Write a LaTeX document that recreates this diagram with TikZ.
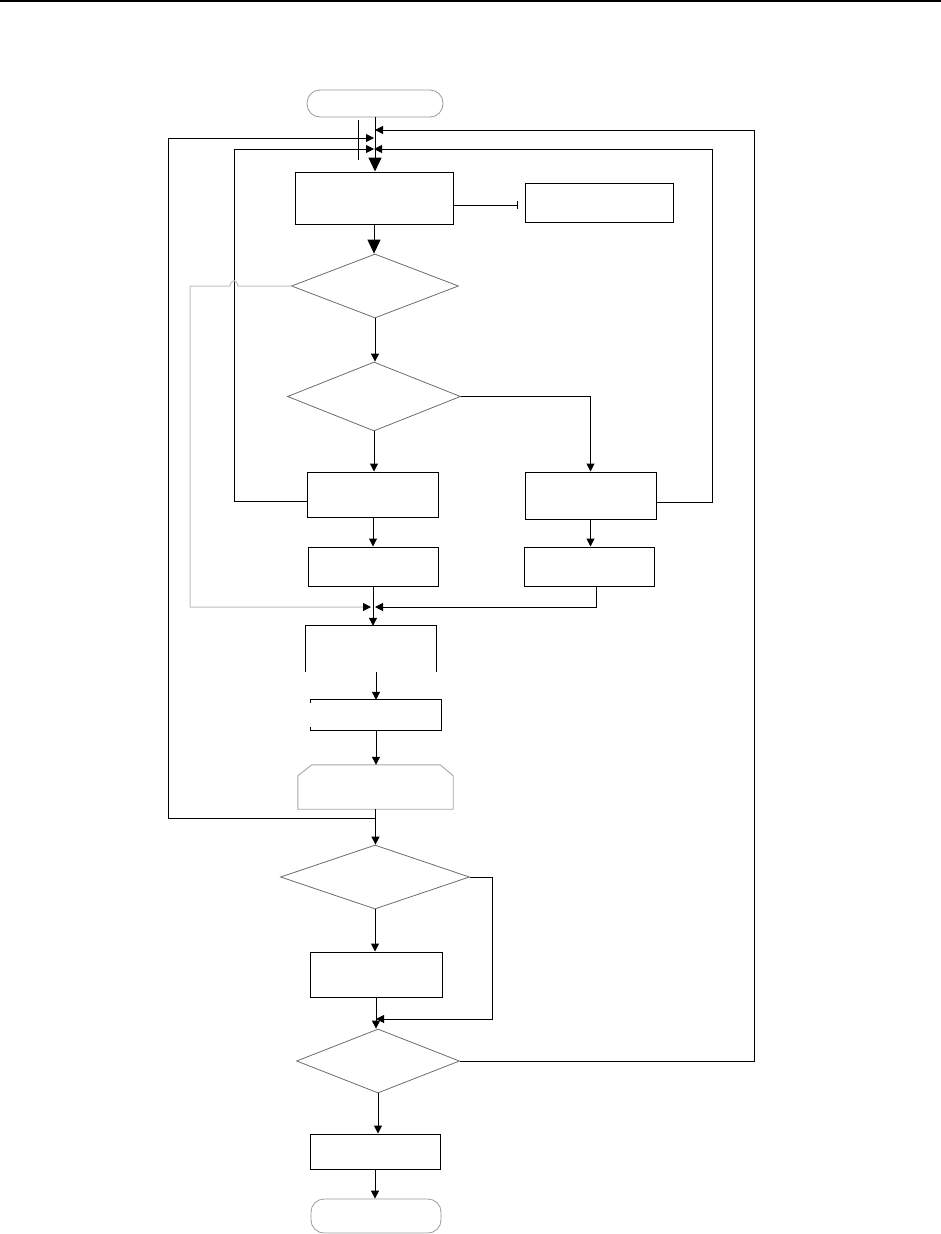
\documentclass[tikz,border=0pt]{standalone}
\usetikzlibrary{shapes.geometric,arrows.meta,calc}
\begin{document}
\begin{tikzpicture}[x=1pt,y=-1pt,
  proc/.style={draw=black,line width=1pt,rectangle,inner sep=0pt},
  hidden/.style={rectangle,inner sep=0pt},
  dec/.style={draw=gray!85!black,line width=0.8pt,shape=diamond,inner sep=0pt},
  term/.style={draw=gray!80,line width=0.8pt,rectangle,rounded corners=13pt,inner sep=0pt},
  flow/.style={line width=1pt,-{Triangle[length=8pt,width=8pt]}},
  bigflow/.style={line width=1pt,-{Triangle[length=14pt,width=13pt]}},
  gflow/.style={line width=1pt,draw=gray!50,-{Triangle[length=8pt,width=8pt,color=black,fill=black]}},
  plain/.style={line width=1pt}]
\useasboundingbox (0,0) rectangle (941,1234);
\draw[line width=1.5pt] (0,1.2) -- (941,1.2);
% nodes
\node[term,minimum width=136pt,minimum height=27pt] (start) at (375,103.5) {};
\node[proc,minimum width=158pt,minimum height=52pt] (box1) at (374,198) {};
\node[proc,minimum width=148pt,minimum height=39pt] (side) at (599,202.5) {};
\node[dec,minimum width=167pt,minimum height=64pt] (d1) at (375,286) {};
\node[dec,minimum width=173pt,minimum height=69pt] (d2) at (374,396.5) {};
\node[proc,minimum width=131pt,minimum height=45pt] (L1) at (373,494.5) {};
\node[proc,minimum width=131pt,minimum height=47pt] (R1) at (590.5,495.5) {};
\node[proc,minimum width=130pt,minimum height=39pt] (L2) at (373,566.5) {};
\node[proc,minimum width=130pt,minimum height=39pt] (R2) at (589,566.5) {};
\node[hidden,minimum width=130pt,minimum height=46pt] (b3) at (371,649) {};
\node[hidden,minimum width=130pt,minimum height=30pt] (b4) at (376,715) {};
\node[hidden,minimum width=155pt,minimum height=44pt] (s5) at (375.5,787) {};
\node[dec,minimum width=189pt,minimum height=64pt] (d3) at (375,877) {};
\node[proc,minimum width=132pt,minimum height=45pt] (b6) at (376,974.5) {};
\node[dec,minimum width=163pt,minimum height=64pt] (d4) at (378,1061) {};
\node[proc,minimum width=130pt,minimum height=35pt] (b7) at (375,1151.5) {};
\node[term,minimum width=130pt,minimum height=34pt] (end) at (376,1216) {};
% custom outlines
\draw[plain] (b3.south west) -- (b3.north west) -- (b3.north east) -- (b3.south east);
\draw[plain] ([yshift=-3pt]b4.north west) -- (b4.north west) -- (b4.north east)
  -- (b4.south east) -- (b4.south west) -- ([yshift=3pt]b4.south west);
\draw[gray!70,line width=0.9pt] (s5.south west) -- ([yshift=-11pt]s5.north west)
  -- ([xshift=14pt]s5.north west) -- ([xshift=-13pt]s5.north east)
  -- ([yshift=-11pt]s5.north east) -- (s5.south east) -- cycle;
% coordinates for bends
\coordinate (jR) at (754,130);
\coordinate (jL) at (168,138);
\coordinate (jA) at (234,149);
\coordinate (jB) at (712,149);
\coordinate (jM) at (L2.south |- 0,607);
\coordinate (jC) at (492,1019);
\coordinate (tap) at (s5.south |- 0,826);
\coordinate (gA) at (190,286);
% main flow
\draw[bigflow] (start.south) -- (start.south |- box1.north);
\draw[bigflow] (box1.south) -- (box1.south |- d1.north);
\draw[flow] (d1.south) -- (d1.south |- d2.north);
\draw[flow] (d2.south) -- (d2.south |- L1.north);
\draw[flow] (L1.south) -- (L1.south |- L2.north);
\draw[flow] (R1.south) -- (R1.south |- R2.north);
\draw[flow] (L2.south) -- (L2.south |- b3.north);
\draw[flow] (b3.south -| b4.north) -- (b4.north);
\draw[flow] (b4.south) -- (b4.south |- s5.north);
\draw[flow] (s5.south) -- (s5.south |- d3.north);
\draw[flow] (d3.south) -- (d3.south |- b6.north);
\draw[flow] (b6.south) -- (b6.south |- d4.north);
\draw[flow] (d4.south) -- (d4.south |- b7.north);
\draw[flow] (b7.south) -- (b7.south |- end.north);
% side connector
\draw[line width=1pt,-{Bar[width=8pt]},shorten >=7pt] ([yshift=-7pt]box1.east) -- ([yshift=-7pt]box1.east -| side.west);
% branches and loops
\draw[flow] (d2.east) -| (R1.north);
\draw[flow] ([yshift=-7pt]L1.west) -| (jA) -- (jA -| box1.north);
\draw[flow] ([yshift=-7pt]R1.east) -| (jB) -- (jB -| box1.north);
\draw[flow] ([xshift=7pt]R2.south) |- ([xshift=2pt]jM);
\draw[gflow] (d1.west) -- (238,286) .. controls (236.5,279) and (231.5,279) .. (230,286) -- (gA) |- ([xshift=-2pt]jM);
\draw[flow] (tap) -- ++(0,-8) -| (jL) -- (jL -| box1.north);
\draw[plain] (358,120) -- (358,160);
\draw[flow] (d3.east) -| (jC) -- (jC -| b6.south);
\draw[flow] (d4.east) -| (jR) -- (jR -| start.south);
\end{tikzpicture}
\end{document}
